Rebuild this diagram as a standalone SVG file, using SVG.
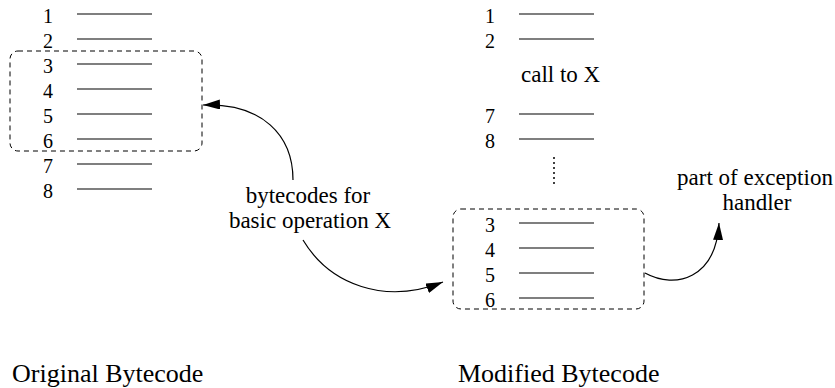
<svg xmlns="http://www.w3.org/2000/svg" width="835" height="388" viewBox="0 0 835 388">
<style>
.rule{stroke:#000;stroke-width:1.2}
.dbox{fill:none;stroke:#000;stroke-width:1;stroke-dasharray:5 4}
.conn{fill:none;stroke:#000;stroke-width:1.2}
</style>
<defs>
<marker id="ah" markerUnits="userSpaceOnUse" markerWidth="18" markerHeight="10" refX="17" refY="5" orient="auto">
<path d="M0,0 L17,5 L0,10 Z" fill="#000"/>
</marker>
</defs>
<g id="original">
<rect class="dbox" x="10" y="51" width="192" height="100" rx="8"/>
<g class="rule">
<line x1="77" y1="14" x2="152" y2="14"/>
<line x1="77" y1="39" x2="152" y2="39"/>
<line x1="77" y1="64" x2="152" y2="64"/>
<line x1="77" y1="89" x2="152" y2="89"/>
<line x1="77" y1="114" x2="152" y2="114"/>
<line x1="77" y1="139" x2="152" y2="139"/>
<line x1="77" y1="164" x2="152" y2="164"/>
<line x1="77" y1="189" x2="152" y2="189"/>
</g>
<text x="48" y="23" font-family="Liberation Serif" font-size="20" text-anchor="middle">1</text>
<text x="48" y="48" font-family="Liberation Serif" font-size="20" text-anchor="middle">2</text>
<text x="48" y="73" font-family="Liberation Serif" font-size="20" text-anchor="middle">3</text>
<text x="48" y="98" font-family="Liberation Serif" font-size="20" text-anchor="middle">4</text>
<text x="48" y="123" font-family="Liberation Serif" font-size="20" text-anchor="middle">5</text>
<text x="48" y="148" font-family="Liberation Serif" font-size="20" text-anchor="middle">6</text>
<text x="48" y="173" font-family="Liberation Serif" font-size="20" text-anchor="middle">7</text>
<text x="48" y="198" font-family="Liberation Serif" font-size="20" text-anchor="middle">8</text>
</g>
<g id="modified">
<g class="rule">
<line x1="519" y1="14" x2="594" y2="14"/>
<line x1="519" y1="39" x2="594" y2="39"/>
<line x1="519" y1="114" x2="594" y2="114"/>
<line x1="519" y1="139" x2="594" y2="139"/>
</g>
<text x="490" y="23" font-family="Liberation Serif" font-size="20" text-anchor="middle">1</text>
<text x="490" y="48" font-family="Liberation Serif" font-size="20" text-anchor="middle">2</text>
<text x="521" y="82" font-family="Liberation Serif" font-size="23">call to X</text>
<text x="490" y="123" font-family="Liberation Serif" font-size="20" text-anchor="middle">7</text>
<text x="490" y="148" font-family="Liberation Serif" font-size="20" text-anchor="middle">8</text>
<line x1="554" y1="158" x2="554" y2="188" stroke="#000" stroke-width="2" stroke-linecap="round" stroke-dasharray="0 5"/>
</g>
<g id="handler-block">
<rect class="dbox" x="453" y="209" width="191" height="100" rx="8"/>
<g class="rule">
<line x1="519" y1="223" x2="594" y2="223"/>
<line x1="519" y1="248" x2="594" y2="248"/>
<line x1="519" y1="273" x2="594" y2="273"/>
<line x1="519" y1="298" x2="594" y2="298"/>
</g>
<text x="490" y="232" font-family="Liberation Serif" font-size="20" text-anchor="middle">3</text>
<text x="490" y="257" font-family="Liberation Serif" font-size="20" text-anchor="middle">4</text>
<text x="490" y="282" font-family="Liberation Serif" font-size="20" text-anchor="middle">5</text>
<text x="490" y="307" font-family="Liberation Serif" font-size="20" text-anchor="middle">6</text>
</g>
<g id="label-x">
<text x="308" y="203" font-family="Liberation Serif" font-size="23" text-anchor="middle">bytecodes for</text>
<text x="310" y="228" font-family="Liberation Serif" font-size="23" text-anchor="middle">basic operation X</text>
</g>
<g id="label-handler">
<text x="755" y="185" font-family="Liberation Serif" font-size="23" text-anchor="middle">part of exception</text>
<text x="757" y="210" font-family="Liberation Serif" font-size="23" text-anchor="middle">handler</text>
</g>
<g id="captions">
<text x="12" y="382" font-family="Liberation Serif" font-size="26">Original Bytecode</text>
<text x="458" y="382" font-family="Liberation Serif" font-size="26">Modified Bytecode</text>
</g>
<g id="connectors">
<path class="conn" d="M293,180 C293,135 262,103 203,105" marker-end="url(#ah)"/>
<path class="conn" d="M303,240 C330,285 385,305 443,282" marker-end="url(#ah)"/>
<path class="conn" d="M645,273 C676,290 716,278 719,223" marker-end="url(#ah)"/>
</g>
</svg>
